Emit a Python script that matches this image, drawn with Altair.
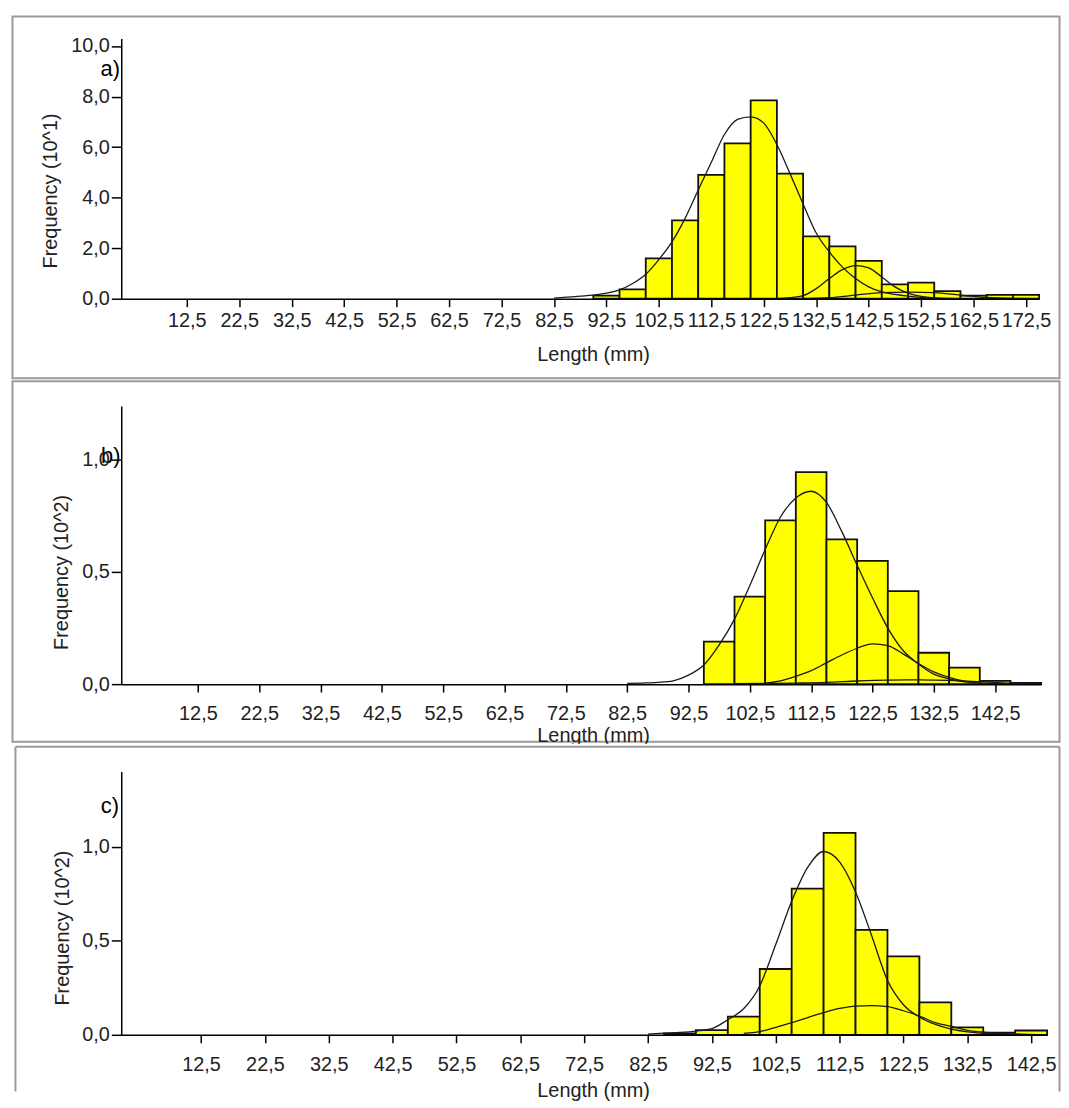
import altair as alt
import pandas as pd

FONT = "Liberation Sans"
BIN_WIDTH = 5
TEXT = "#222222"
FRAME = "#9a9a9a"

# ---------------- panel a ----------------
a_bin_lo = [90, 95, 100, 105, 110, 115, 120, 125, 130, 135, 140, 145, 150, 155, 160, 165, 170]
a_freq = [0.12, 0.37, 1.6, 3.1, 4.9, 6.15, 7.85, 4.95, 2.47, 2.07, 1.5, 0.57, 0.64, 0.3, 0.12, 0.15, 0.15]
a_c1_x = [82.5, 85, 87.5, 90, 92.5, 95, 97.5, 100, 102.5, 105, 107.5, 110, 112.5, 115, 117.5, 120,
          122.5, 125, 127.5, 130, 132.5, 135, 137.5, 140, 142.5, 145, 147.5, 150, 152.5, 155, 160]
a_c1_y = [0.02, 0.06, 0.1, 0.14, 0.22, 0.35, 0.6, 0.97, 1.55, 2.25, 3.18, 4.3, 5.4, 6.5, 7.1, 7.2,
          6.95, 6.1, 4.95, 3.75, 2.6, 1.85, 1.25, 0.8, 0.47, 0.27, 0.17, 0.1, 0.05, 0.02, 0.0]
a_c2_x = [125, 127.5, 130, 132.5, 135, 137.5, 140, 142.5, 145, 147.5, 150, 152.5, 155, 157.5, 160]
a_c2_y = [0.0, 0.04, 0.12, 0.4, 0.8, 1.15, 1.31, 1.22, 0.86, 0.47, 0.22, 0.09, 0.03, 0.01, 0.0]
a_c3_x = [130, 135, 140, 145, 150, 155, 160, 165, 170, 175]
a_c3_y = [0.0, 0.04, 0.14, 0.24, 0.26, 0.24, 0.14, 0.05, 0.01, 0.0]
a_xticks = [12.5, 22.5, 32.5, 42.5, 52.5, 62.5, 72.5, 82.5, 92.5, 102.5, 112.5, 122.5, 132.5,
            142.5, 152.5, 162.5, 172.5]
a_yticks = [0, 2, 4, 6, 8, 10]

# ---------------- panel b ----------------
b_bin_lo = [95, 100, 105, 110, 115, 120, 125, 130, 135, 140, 145]
b_freq = [0.19, 0.39, 0.73, 0.945, 0.645, 0.55, 0.415, 0.14, 0.074, 0.015, 0.006]
b_c1_x = [82.5, 85, 87.5, 90, 92.5, 95, 97.5, 100, 102.5, 105, 107.5, 110, 112.5, 115, 117.5, 120,
          122.5, 125, 127.5, 130, 132.5, 135, 137.5, 140, 145]
b_c1_y = [0.003, 0.005, 0.008, 0.015, 0.04, 0.085, 0.175, 0.29, 0.44, 0.6, 0.745, 0.83, 0.86, 0.81,
          0.68, 0.53, 0.385, 0.25, 0.15, 0.09, 0.045, 0.024, 0.01, 0.004, 0.0]
b_c2_x = [105, 107.5, 110, 112.5, 115, 117.5, 120, 122.5, 125, 127.5, 130, 132.5, 135, 137.5, 140, 145]
b_c2_y = [0.005, 0.015, 0.035, 0.06, 0.095, 0.13, 0.16, 0.18, 0.172, 0.135, 0.092, 0.055, 0.03,
          0.013, 0.005, 0.0]
b_c3_x = [100, 110, 115, 120, 125, 130, 135, 140, 145, 150]
b_c3_y = [0.002, 0.005, 0.008, 0.014, 0.018, 0.019, 0.017, 0.011, 0.004, 0.0]
b_xticks = [12.5, 22.5, 32.5, 42.5, 52.5, 62.5, 72.5, 82.5, 92.5, 102.5, 112.5, 122.5, 132.5, 142.5]
b_yticks = [0, 0.5, 1.0]

# ---------------- panel c ----------------
c_bin_lo = [85, 90, 95, 100, 105, 110, 115, 120, 125, 130, 135, 140]
c_freq = [0.008, 0.025, 0.097, 0.35, 0.778, 1.074, 0.558, 0.417, 0.172, 0.04, 0.012, 0.023]
c_c1_x = [82.5, 85, 87.5, 90, 92.5, 95, 97.5, 100, 102.5, 105, 107.5, 110, 112.5, 115, 117.5, 120,
          122.5, 125, 127.5, 130, 132.5, 135, 140, 145]
c_c1_y = [0.004, 0.009, 0.013, 0.02, 0.033, 0.08, 0.14, 0.26, 0.48, 0.71, 0.89, 0.975, 0.92, 0.76,
          0.53, 0.29, 0.16, 0.095, 0.055, 0.03, 0.016, 0.009, 0.003, 0.0]
c_c2_x = [97.5, 100, 102.5, 105, 107.5, 110, 112.5, 115, 117.5, 120, 122.5, 125, 127.5, 130, 132.5,
          135, 137.5, 140, 145]
c_c2_y = [0.008, 0.017, 0.04, 0.065, 0.092, 0.118, 0.14, 0.153, 0.155, 0.15, 0.128, 0.1, 0.065,
          0.045, 0.024, 0.014, 0.008, 0.004, 0.0]
c_xticks = b_xticks
c_yticks = [0, 0.5, 1.0]

LABEL_EXPR = "replace(format(datum.value, '.1f'), '.', ',')"
ONE = pd.DataFrame({"k": [0]})


def bars_df(lo, freq):
    return pd.DataFrame({"lo": lo, "hi": [v + BIN_WIDTH for v in lo], "freq": freq})


def curves_df(curves):
    rows = []
    for name, xs, ys in curves:
        for x, y in zip(xs, ys):
            rows.append({"comp": name, "x": x, "y": y})
    return pd.DataFrame(rows)


def panel(lo, freq, curves, xmax, xticks, ydomain, yrange, yticks, ytitle, width, height,
          xlabpad, xtitle_y, ytitle_x, ytitle_y, label, label_xy, frame_layers):
    xscale = alt.Scale(domain=[0, xmax], nice=False, zero=False)
    yscale = alt.Scale(domain=ydomain, range=yrange, nice=False, zero=False)
    xaxis = alt.Axis(values=xticks, labelExpr=LABEL_EXPR, title="Length (mm)", grid=False,
                     labelOverlap=False, labelFlush=False, labelBound=False, tickSize=8,
                     labelPadding=xlabpad, titleX=475, titleY=xtitle_y, titleBaseline="middle",
                     titleAlign="center", zindex=2)
    yaxis = alt.Axis(values=yticks, labelExpr=LABEL_EXPR, title=ytitle, grid=False,
                     labelOverlap=False, labelFlush=False, tickSize=10, labelPadding=2,
                     titleX=ytitle_x, titleY=ytitle_y, titleBaseline="middle", titleAlign="center",
                     titleAngle=270, zindex=2)
    bars = alt.Chart(bars_df(lo, freq)).mark_rect(
        color="#ffff00", stroke="#111111", strokeWidth=1.8
    ).encode(
        x=alt.X("lo:Q", scale=xscale, axis=xaxis),
        x2="hi:Q",
        y=alt.Y("freq:Q", scale=yscale, axis=yaxis),
        y2=alt.datum(0),
    )
    lines = alt.Chart(curves_df(curves)).mark_line(
        interpolate="monotone", color="#1a1a1a", strokeWidth=1.3
    ).encode(
        x=alt.X("x:Q", scale=xscale, axis=xaxis),
        y=alt.Y("y:Q", scale=yscale, axis=yaxis),
        detail="comp:N",
    )
    text = alt.Chart(ONE).mark_text(
        text=label, font=FONT, fontSize=22, color="#000000", align="center", baseline="middle"
    ).encode(x=alt.value(label_xy[0]), y=alt.value(label_xy[1]))
    return alt.layer(*frame_layers, bars, lines, text).properties(width=width, height=height)


def frame_rect(x, x2, y, y2, stroke=True):
    kw = dict(fill="#ffffff")
    if stroke:
        kw.update(stroke=FRAME, strokeWidth=2)
    else:
        kw.update(strokeWidth=0)
    return alt.Chart(ONE).mark_rect(**kw).encode(
        x=alt.value(x), x2=alt.value(x2), y=alt.value(y), y2=alt.value(y2))


def frame_rule(x, x2, y, y2):
    return alt.Chart(ONE).mark_rule(color=FRAME, strokeWidth=2).encode(
        x=alt.value(x), x2=alt.value(x2), y=alt.value(y), y2=alt.value(y2))


pa = panel(a_bin_lo, a_freq,
           [("c1", a_c1_x, a_c1_y), ("c2", a_c2_x, a_c2_y), ("c3", a_c3_x, a_c3_y)],
           175, a_xticks, [0, 10.3], [262, 0], a_yticks, "Frequency (10^1)", 924, 262,
           4, 56, -71.5, 153, "a)", (-11, 31),
           [frame_rect(-109.5, 944.5, -22, 342)])

pb = panel(b_bin_lo, b_freq,
           [("c1", b_c1_x, b_c1_y), ("c2", b_c2_x, b_c2_y), ("c3", b_c3_x, b_c3_y)],
           150, b_xticks, [0, 1.24], [300, 20], b_yticks, "Frequency (10^2)", 926, 300,
           12, 52, -60.5, 187, "b)", (-10.5, 70),
           [frame_rect(-109.5, 944.5, -5, 358)])

pc = panel(c_bin_lo, c_freq,
           [("c1", c_c1_x, c_c1_y), ("c2", c_c2_x, c_c2_y)],
           145, c_xticks, [0, 1.4], [265, 0], c_yticks, "Frequency (10^2)", 932, 265,
           12, 56, -59.5, 157, "c)", (-11.5, 35),
           [frame_rect(-106.5, 944.5, -28, 322, stroke=False),
            frame_rule(-106.5, 944.5, -25, -25),
            frame_rule(-106.5, -106.5, -25, 322),
            frame_rule(944.5, 944.5, -25, 322)])

chart = alt.vconcat(pa, pb, pc, spacing=88, bounds="flush").properties(
    padding={"left": 3, "top": 4, "right": 0, "bottom": 0}
).configure_view(strokeWidth=0).configure_axis(
    domainColor="#000000", domainWidth=1.5, tickColor="#000000", tickWidth=1.5,
    labelFont=FONT, labelFontSize=20, labelColor=TEXT, titleFont=FONT, titleFontSize=20,
    titleColor=TEXT, titleFontWeight="normal"
)

chart.save("out.html", embed_options={"renderer": "svg", "actions": False})
